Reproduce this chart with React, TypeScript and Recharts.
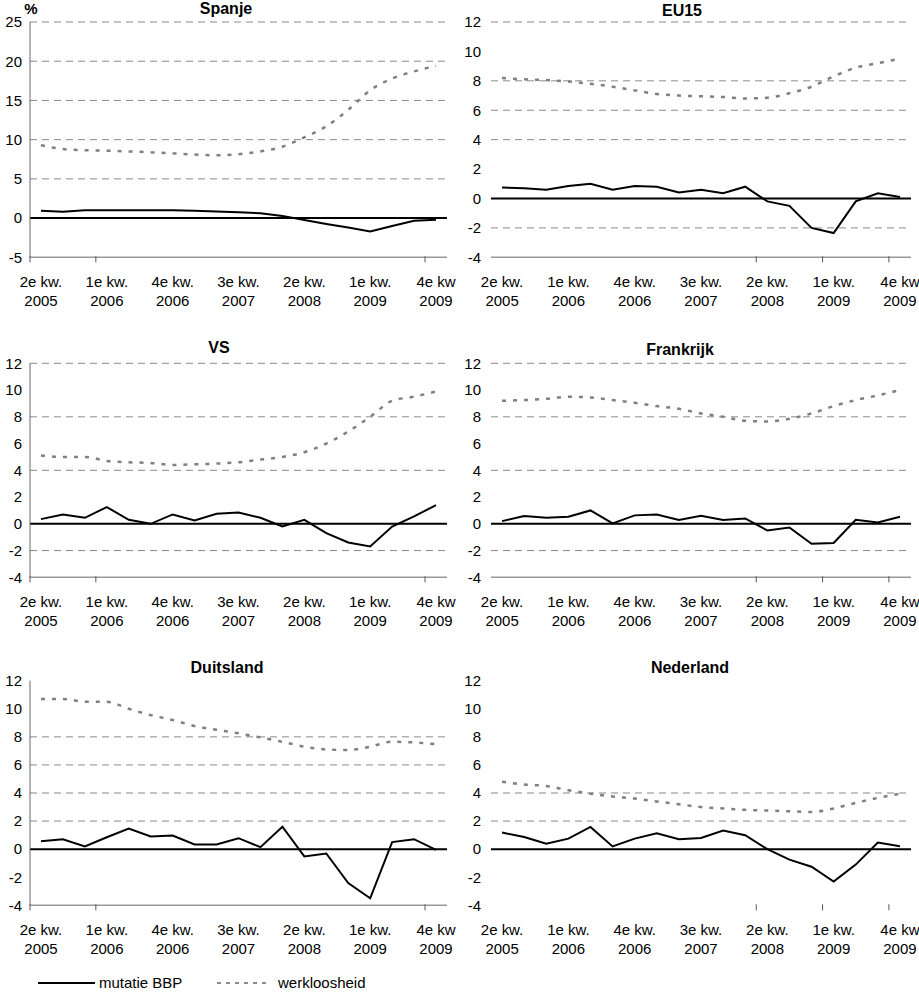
import React from 'react';
import { LineChart, Line, XAxis, YAxis, ReferenceLine } from 'recharts';

// 19 quarters: 2e kw. 2005 .. 4e kw. 2009
const quarters = [
  '2e kw. 2005', '3e kw. 2005', '4e kw. 2005',
  '1e kw. 2006', '2e kw. 2006', '3e kw. 2006', '4e kw. 2006',
  '1e kw. 2007', '2e kw. 2007', '3e kw. 2007', '4e kw. 2007',
  '1e kw. 2008', '2e kw. 2008', '3e kw. 2008', '4e kw. 2008',
  '1e kw. 2009', '2e kw. 2009', '3e kw. 2009', '4e kw. 2009',
];
const tickIndices = [0, 3, 6, 9, 12, 15, 18];
const tickLine1 = ['2e kw.', '1e kw.', '4e kw.', '3e kw.', '2e kw.', '1e kw.', '4e kw'];
const tickLine2 = ['2005', '2006', '2006', '2007', '2008', '2009', '2009'];

const seriesNames = { bbp: 'mutatie BBP', werk: 'werkloosheid' };

const spanjeBBP = [0.95, 0.8, 1.0, 1.0, 1.0, 1.0, 1.0, 0.95, 0.85, 0.75, 0.62, 0.28, -0.25, -0.75, -1.2, -1.7, -1.0, -0.35, -0.2];
const spanjeWerk = [9.3, 8.8, 8.65, 8.6, 8.5, 8.4, 8.25, 8.1, 8.0, 8.15, 8.5, 9.1, 10.3, 11.7, 13.8, 16.3, 17.8, 18.7, 19.4];

const eu15BBP = [0.75, 0.7, 0.6, 0.85, 1.0, 0.6, 0.85, 0.8, 0.4, 0.6, 0.35, 0.8, -0.2, -0.5, -2.0, -2.35, -0.2, 0.35, 0.1];
const eu15Werk = [8.2, 8.1, 8.05, 7.95, 7.8, 7.6, 7.35, 7.1, 7.0, 6.95, 6.9, 6.8, 6.85, 7.15, 7.6, 8.3, 8.9, 9.2, 9.5];

const vsBBP = [0.35, 0.7, 0.45, 1.25, 0.3, 0.0, 0.7, 0.25, 0.75, 0.85, 0.45, -0.2, 0.3, -0.7, -1.4, -1.7, -0.2, 0.55, 1.4];
const vsWerk = [5.1, 5.0, 5.0, 4.7, 4.6, 4.55, 4.4, 4.45, 4.5, 4.6, 4.8, 5.0, 5.35, 6.0, 6.9, 8.0, 9.2, 9.5, 9.9];

const frankrijkBBP = [0.2, 0.58, 0.45, 0.53, 1.0, 0.03, 0.63, 0.7, 0.28, 0.6, 0.28, 0.4, -0.5, -0.28, -1.5, -1.43, 0.3, 0.1, 0.53];
const frankrijkWerk = [9.2, 9.25, 9.35, 9.5, 9.45, 9.25, 9.05, 8.8, 8.6, 8.25, 8.0, 7.7, 7.65, 7.85, 8.25, 8.8, 9.25, 9.6, 10.0];

const duitslandBBP = [0.57, 0.7, 0.2, 0.85, 1.47, 0.9, 0.97, 0.33, 0.33, 0.78, 0.14, 1.6, -0.52, -0.31, -2.42, -3.5, 0.5, 0.71, -0.05];
const duitslandWerk = [10.7, 10.7, 10.5, 10.5, 10.0, 9.55, 9.2, 8.77, 8.5, 8.25, 7.96, 7.65, 7.3, 7.1, 7.06, 7.3, 7.65, 7.6, 7.47];

const nederlandBBP = [1.18, 0.87, 0.38, 0.75, 1.58, 0.19, 0.75, 1.13, 0.71, 0.8, 1.32, 0.99, 0.0, -0.75, -1.25, -2.31, -1.1, 0.47, 0.21];
const nederlandWerk = [4.8, 4.6, 4.5, 4.2, 3.95, 3.75, 3.6, 3.4, 3.2, 3.0, 2.9, 2.8, 2.75, 2.7, 2.65, 2.9, 3.3, 3.65, 3.95];

const yTicksSpanje = [-5, 0, 5, 10, 15, 20, 25];
const yTicksOther = [-4, -2, 0, 2, 4, 6, 8, 10, 12];

const FONT = '"Liberation Sans", Arial, sans-serif';

type PanelCfg = {
  title: string;
  bbp: number[];
  werk: number[];
  yTicks: number[];
  grid: number[];
  yLine: boolean;
  xLine: boolean;
  marks: number[];
  left: number;
  top: number;
  width: number;
  yw: number;
  mRight: number;
  mTop: number;
  plotH: number;
  tickMargin: number;
  titleX: number;
  titleY: number;
};

const LEFT = { left: 0, width: 459, yw: 30, mRight: 12, tickMargin: 2, marks: [0, 3, 18] };
const RIGHT = { left: 459, width: 460, yw: 32, mRight: 8, tickMargin: 4, marks: [12, 15, 18] };
const ROW1 = { top: 0, mTop: 22, plotH: 235.3 };
const ROW2 = { top: 320, mTop: 43.3, plotH: 214 };
const ROW3 = { top: 640, mTop: 40.7, plotH: 224.6 };

const panels: PanelCfg[] = [
  { title: 'Spanje', bbp: spanjeBBP, werk: spanjeWerk, yTicks: yTicksSpanje, grid: [5, 10, 15, 20, 25], yLine: true, xLine: true, ...LEFT, ...ROW1, titleX: 226, titleY: 14 },
  { title: 'EU15', bbp: eu15BBP, werk: eu15Werk, yTicks: yTicksOther, grid: [12, 8, 6, 4, -2], yLine: false, xLine: true, ...RIGHT, ...ROW1, titleX: 682, titleY: 16 },
  { title: 'VS', bbp: vsBBP, werk: vsWerk, yTicks: yTicksOther, grid: [12, 8, 4, -2], yLine: true, xLine: true, ...LEFT, ...ROW2, titleX: 219, titleY: 353 },
  { title: 'Frankrijk', bbp: frankrijkBBP, werk: frankrijkWerk, yTicks: yTicksOther, grid: [12, 8, 4, -2], yLine: false, xLine: true, ...RIGHT, ...ROW2, titleX: 680, titleY: 355 },
  { title: 'Duitsland', bbp: duitslandBBP, werk: duitslandWerk, yTicks: yTicksOther, grid: [8, 6, 4, 2], yLine: true, xLine: true, ...LEFT, ...ROW3, titleX: 227, titleY: 673 },
  { title: 'Nederland', bbp: nederlandBBP, werk: nederlandWerk, yTicks: yTicksOther, grid: [4, 2], yLine: false, xLine: false, ...RIGHT, ...ROW3, titleX: 690, titleY: 673 },
];

function Panel({ p }: { p: PanelCfg }) {
  const data = quarters.map((q, i) => ({ i, q, bbp: p.bbp[i], werk: p.werk[i] }));
  const height = p.mTop + p.plotH + 60;
  const plotW = p.width - p.yw - p.mRight;
  const halfBand = plotW / quarters.length / 2;
  const renderTick = (props: any) => {
    const { x, y, payload } = props;
    const k = tickIndices.indexOf(payload.value);
    if (k < 0) return <g />;
    return (
      <g>
        {p.marks.includes(payload.value) && (
          <line x1={x - halfBand} x2={x - halfBand} y1={y - 1} y2={y + 5} stroke="#555" strokeWidth={1} />
        )}
        <text x={x} y={y + 30} textAnchor="middle" fontSize={15} fontFamily={FONT} fill="#000">{tickLine1[k]}</text>
        <text x={x} y={y + 49} textAnchor="middle" fontSize={15} fontFamily={FONT} fill="#000">{tickLine2[k]}</text>
      </g>
    );
  };
  const yMin = p.yTicks[0];
  const yMax = p.yTicks[p.yTicks.length - 1];
  return (
    <div style={{ position: 'absolute', left: p.left, top: p.top }}>
      <LineChart width={p.width} height={height} data={data} margin={{ top: p.mTop, right: p.mRight, bottom: 0, left: 0 }}>
        <XAxis
          dataKey="i"
          type="number"
          domain={[-0.5, 18.5]}
          ticks={tickIndices}
          interval={0}
          tick={renderTick}
          tickLine={false}
          tickSize={0}
          tickMargin={0}
          axisLine={p.xLine ? { stroke: '#999', strokeWidth: 1.5 } : false}
          height={60}
        />
        <YAxis
          type="number"
          domain={[yMin, yMax]}
          ticks={p.yTicks}
          interval={0}
          width={p.yw}
          tickLine={false}
          tickMargin={p.tickMargin}
          axisLine={p.yLine ? { stroke: '#666', strokeWidth: 1 } : false}
          tick={{ fill: '#000', fontSize: 15, fontFamily: FONT }}
        />
        {p.grid.map((v) => (
          <ReferenceLine key={v} y={v} stroke="#8a8a8a" strokeWidth={1} strokeDasharray="7 5" />
        ))}
        <ReferenceLine y={0} stroke="#000" strokeWidth={2} />
        <Line
          name={seriesNames.werk}
          dataKey="werk"
          type="monotone"
          stroke="#808080"
          strokeWidth={2.5}
          strokeDasharray="4 7"
          dot={false}
          activeDot={false}
          isAnimationActive={false}
        />
        <Line
          name={seriesNames.bbp}
          dataKey="bbp"
          type="linear"
          stroke="#000"
          strokeWidth={2}
          dot={false}
          activeDot={false}
          isAnimationActive={false}
        />
      </LineChart>
    </div>
  );
}

export default function App() {
  return (
    <div style={{ position: 'absolute', left: 0, top: 0, width: 919, height: 992, background: '#fff', fontFamily: FONT, overflow: 'hidden' }}>
      {panels.map((p) => (
        <Panel key={p.title} p={p} />
      ))}
      <svg width={919} height={992} style={{ position: 'absolute', left: 0, top: 0, pointerEvents: 'none' }}>
        <text x={31} y={14} textAnchor="middle" fontSize={15} fontWeight="bold" fontFamily={FONT} fill="#000">%</text>
        {panels.map((p) => (
          <text key={p.title} x={p.titleX} y={p.titleY} textAnchor="middle" fontSize={16} fontWeight="bold" fontFamily={FONT} fill="#000">
            {p.title}
          </text>
        ))}
        <line x1={38} x2={95} y1={983} y2={983} stroke="#000" strokeWidth={2} />
        <text x={99} y={988} fontSize={15} fontFamily={FONT} fill="#000">{seriesNames.bbp}</text>
        <line x1={217} x2={266} y1={983} y2={983} stroke="#666" strokeWidth={1.5} strokeDasharray="4 5" />
        <text x={278} y={988} fontSize={15} fontFamily={FONT} fill="#000">{seriesNames.werk}</text>
      </svg>
    </div>
  );
}
